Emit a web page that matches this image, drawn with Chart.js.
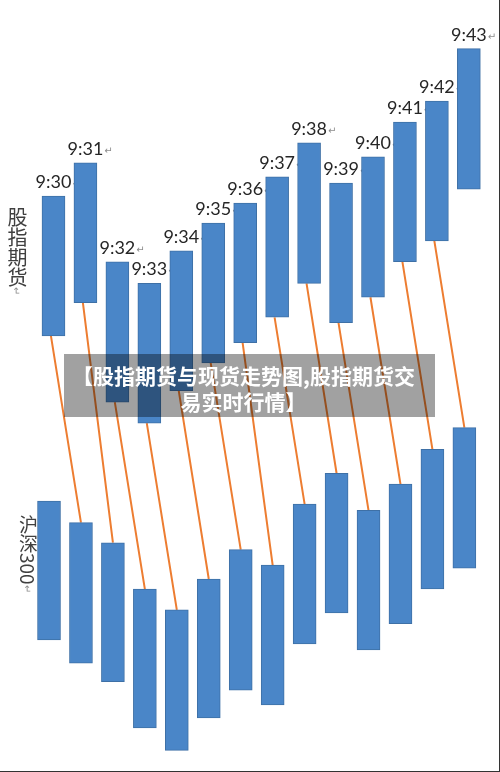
<!DOCTYPE html>
<html lang="zh-CN">
<head>
<meta charset="utf-8">
<title>股指期货与现货走势图</title>
<script src="https://cdn.jsdelivr.net/npm/chart.js@4.4.1/dist/chart.umd.min.js"></script>
<style>
  html, body { margin: 0; padding: 0; background: #fff; }
  #wrap { position: relative; width: 500px; height: 772px; overflow: hidden; }
  #dataChart { position: absolute; left: 0; top: 0; }
  .side {
    position: absolute;
    writing-mode: vertical-rl;
    font-family: "Noto Sans CJK SC", sans-serif;
    color: #404040;
    line-height: 20px;
  }
  .side .mark { font-size: 10px; color: #8c8c8c; }
  #futLabel { left: 7px; top: 207px; font-size: 20px; }
  #spotLabel { left: 18px; top: 515px; font-size: 19px; }
  #banner {
    position: absolute;
    left: 64px; top: 354px; width: 359px; height: 55px;
    padding: 8px 12px 0 0;
    background: rgba(0, 0, 0, 0.37);
    color: #fff;
    font-family: "Noto Sans CJK SC", sans-serif;
    font-weight: bold;
    font-size: 21px;
    line-height: 26px;
    text-align: center;
    white-space: nowrap;
  }
  #frameR { position: absolute; right: 0; top: 0; width: 1px; height: 772px; background: #333; }
  #frameB { position: absolute; left: 0; bottom: 0; width: 500px; height: 1px; background: #333; }
</style>
</head>
<body>
<div id="wrap">
  <canvas id="dataChart" width="500" height="772"></canvas>
  <div class="side" id="futLabel">股指期货<span class="mark">↵</span></div>
  <div class="side" id="spotLabel">沪深300<span class="mark">↵</span></div>
  <div id="banner">【股指期货与现货走势图,股指期货交<br>易实时行情】</div>
  <div id="frameR"></div>
  <div id="frameB"></div>
</div>
<script>
// minute labels for the futures bars
const times = ["9:30", "9:31", "9:32", "9:33", "9:34", "9:35", "9:36",
               "9:37", "9:38", "9:39", "9:40", "9:41", "9:42", "9:43"];

// 股指期货 range per minute (relative units)
const futuresHigh = [74.6, 78.9, 66.1, 63.3, 67.5, 71.1, 73.7, 77.1, 81.5, 76.3, 79.7, 84.2, 86.9, 93.7];
const futuresLow  = [56.5, 60.8, 47.9, 45.2, 49.4, 53.0, 55.6, 58.9, 63.3, 58.2, 61.5, 66.1, 68.8, 75.5];

// 沪深300 range per minute (relative units)
const spotHigh = [35.1, 32.3, 29.7, 23.7, 21.0, 25.0, 28.8, 26.8, 34.7, 38.7, 33.9, 37.3, 41.8, 44.6];
const spotLow  = [17.1, 14.1, 11.7, 5.7, 2.8, 7.0, 10.6, 8.7, 16.6, 20.6, 15.8, 19.2, 23.7, 26.4];

document.addEventListener("DOMContentLoaded", function () {
  const ctx = document.getElementById("dataChart").getContext("2d");

  const SPOT_SHIFT = -0.14;   // spot bars sit a little left of the futures bars
  const LINK_SHIFT = -0.08;

  const futData = times.map((t, i) => ({ x: i, y: [futuresLow[i], futuresHigh[i]] }));
  const spotData = times.map((t, i) => ({ x: i + SPOT_SHIFT, y: [spotLow[i], spotHigh[i]] }));

  // each futures minute links to the next spot bar; null breaks the line
  const links = [];
  for (let i = 0; i < times.length - 1; i++) {
    links.push({ x: i + LINK_SHIFT, y: futuresLow[i] });
    links.push({ x: i + 1 + SPOT_SHIFT, y: spotHigh[i + 1] });
    links.push({ x: i + 0.5, y: null });
  }

  // time labels drawn under the bars, like the original
  const timeLabels = {
    id: "timeLabels",
    beforeDatasetsDraw(chart) {
      const meta = chart.getDatasetMeta(0);
      const c = chart.ctx;
      c.save();
      c.textBaseline = "alphabetic";
      c.textAlign = "left";
      meta.data.forEach((bar, i) => {
        c.font = '18px Lato, "Open Sans", sans-serif';
        const w = c.measureText(times[i]).width;
        const x = bar.x - w / 2;
        const y = bar.y - 8;
        c.fillStyle = "#262626";
        c.fillText(times[i], x, y);
        c.font = '10px "DejaVu Sans", sans-serif';
        c.fillStyle = "#8c8c8c";
        c.fillText("↵", x + w + 1, y - 1);
      });
      c.restore();
    }
  };

  new Chart(ctx, {
    type: "bar",
    data: {
      datasets: [
        {
          label: "股指期货",
          data: futData,
          backgroundColor: "#4a86c8",
          borderColor: "#3e70a6",
          borderWidth: 1,
          borderSkipped: false,
          barThickness: 23,
          grouped: false,
          order: 1
        },
        {
          label: "沪深300",
          data: spotData,
          backgroundColor: "#4a86c8",
          borderColor: "#3e70a6",
          borderWidth: 1,
          borderSkipped: false,
          barThickness: 23,
          grouped: false,
          order: 1
        },
        {
          type: "line",
          label: "links",
          data: links,
          borderColor: "#ed7d31",
          borderWidth: 2,
          pointRadius: 0,
          spanGaps: false,
          fill: false,
          order: 2
        }
      ]
    },
    options: {
      responsive: false,
      animation: false,
      events: [],
      layout: { padding: 0 },
      plugins: {
        legend: { display: false },
        tooltip: { enabled: false }
      },
      scales: {
        x: { type: "linear", min: -1.674, max: 13.975, offset: false, display: false },
        y: { type: "linear", min: 0, max: 100, display: false }
      }
    },
    plugins: [timeLabels]
  });
});
</script>
</body>
</html>
